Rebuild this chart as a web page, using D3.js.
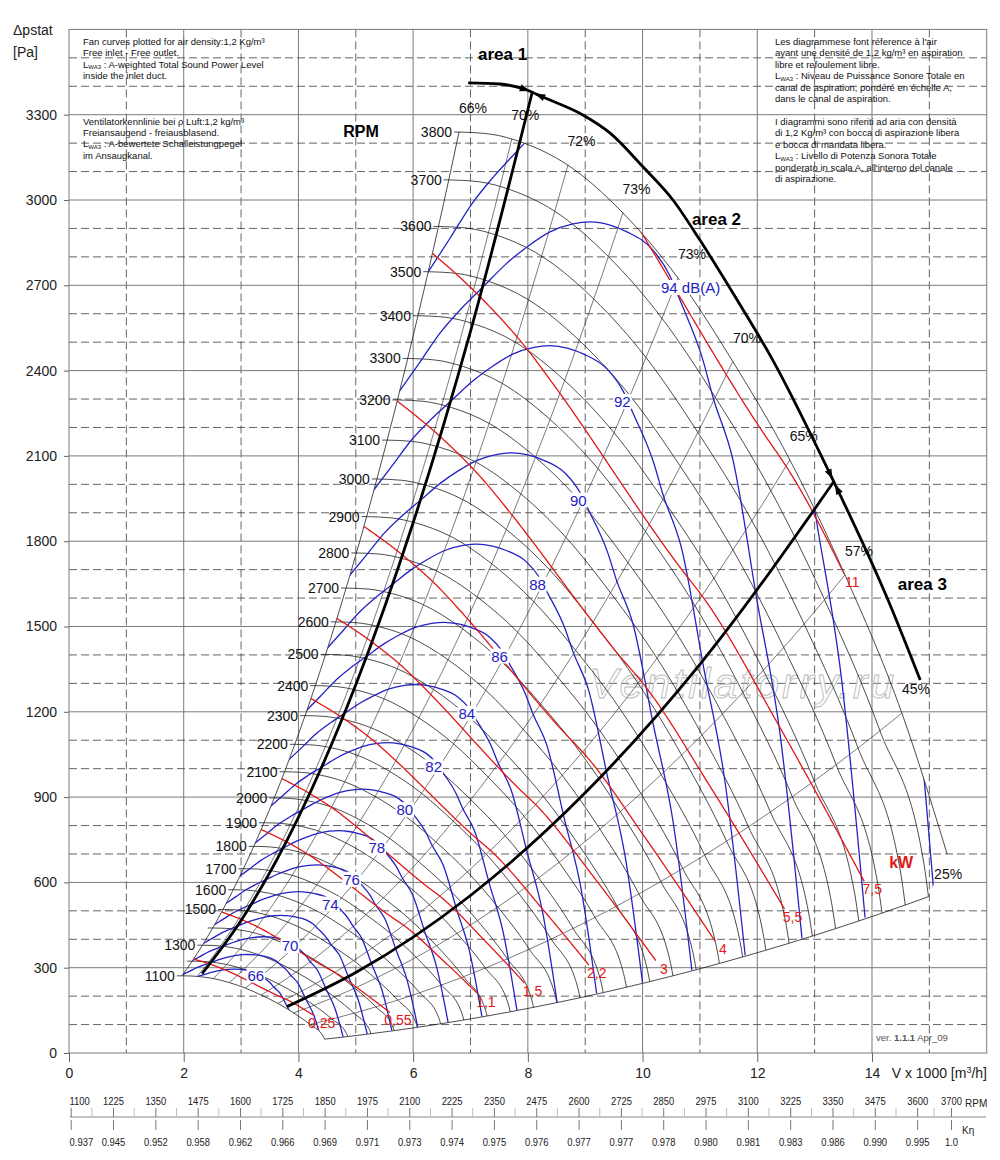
<!DOCTYPE html>
<html>
<head>
<meta charset="utf-8">
<title>Fan curves</title>
<script src="https://cdn.jsdelivr.net/npm/d3@7"></script>
<style>
  body { margin: 0; background: #fff; }
  svg { font-family: "Liberation Sans", Arial, sans-serif; }
  .solid { stroke: #7a7a7a; stroke-width: 1; }
  .dash { stroke: #3c3c3c; stroke-width: 0.8; stroke-dasharray: 8 4; }
  .note { font-size: 9.5px; fill: #111; }
  .axis text { font-size: 14px; fill: #222; }
  .axis line { stroke: #666; }
  .axis path { display: none; }
  .scale text { font-size: 11.5px; fill: #222; }
  .scale line { stroke: #777; }
  .scale path { display: none; }
</style>
</head>
<body>
<svg id="chart" width="1000" height="1160"></svg>
<script>
// speeds of the fan curves
const rpmList = [1100,1200,1300,1400,1500,1600,1700,1800,1900,2000,2100,2200,2300,2400,
                 2500,2600,2700,2800,2900,3000,3100,3200,3300,3400,3500,3600,3700,3800];
const rpmNoLabel = [1200, 1400];
// fan curve at 3800 rpm  [V x 1000 m3/h, Pa]
const curve3800 = [[6.80,3239],[7.34,3232],[7.92,3201],[8.68,3125],[9.66,2954],[10.62,2725],
                   [11.57,2433],[12.57,2085],[13.53,1681],[14.52,1196],[15.31,700],[15.39,580]];
// efficiency lines: flow where they meet the 3800 rpm curve
const effTopV = [6.80,7.72,8.70,9.66,10.62,11.57,12.57,13.53,14.52,15.31];
const effText = ["66%","70%","72%","73%","73%","70%","65%","57%","45%","25%"];
// sound power curves
const dbLevels = [66,68,70,72,74,76,78,80,82,84,86,88,90,92,94,96,98];
const dbFootV  = [4.06,4.40,4.78,5.20,5.63,6.08,6.61,7.20,7.81,8.51,9.20,10.00,10.86,11.79,12.78,13.88,15.08];
const dbShown  = [66,70,74,76,78,80,82,84,86,88,90,92,94];
const curve94dB = [[5.753,2325],[6.119,2430],[6.468,2532],[6.817,2613],[7.218,2694],[7.636,2778],
                   [7.985,2835],[8.386,2888],[8.787,2916],[9.083,2923],[9.432,2912],[9.728,2888],
                   [10.181,2824],[10.478,2733],[10.652,2648],[11.053,2437],[11.227,2307],[11.576,2086],
                   [11.994,1593],[12.395,1125],[12.779,404]];
// shaft power lines
const kwText = ["0,25","0,55","1,1","1,5","2,2","3","4","5,5","7,5","11"];
const kwStartRpm = [1200,1470,1850,2050,2330,2580,2840,3160,3500,3965];
const kwEndV = [4.27,5.60,7.13,7.95,9.07,10.29,11.31,12.48,13.88,13.53];
const curve7kW5 = [[6.33,2814],[7.17,2659],[8.04,2462],[8.39,2367],[10.65,1709],[11.09,1593],
                   [12.40,1143],[13.88,598]];
// area limits
const area1Line = [[2.32,279],[3,466],[4,829],[5,1295],[6,1865],[7,2538],[8.08,3382]];
const area2Line = [[3.80,163],[5,283],[7,554],[9,915],[11,1367],[13.33,2008]];
const envelope = [[6.96,3412],[7.51,3408],[7.98,3387],[8.26,3362],[8.96,3299],[9.43,3236],
                  [10.01,3116],[10.53,3000],[11.00,2859],[11.65,2648],[12.27,2437],[13.21,2061],
                  [14.28,1593],[14.84,1312]];
// axes
const xTicks = [0,2,4,6,8,10,12,14];
const yTicks = [0,300,600,900,1200,1500,1800,2100,2400,2700,3000,3300];
const rpmTicks = [1100,1225,1350,1475,1600,1725,1850,1975,2100,2225,2350,2475,2600,2725,
                  2850,2975,3100,3225,3350,3475,3600,3700];
const kEta = ["0.937","0.945","0.952","0.958","0.962","0.966","0.969","0.971","0.973","0.974",
              "0.975","0.976","0.977","0.977","0.978","0.980","0.981","0.983","0.986","0.990",
              "0.995","1.0"];

const notesLeft = [["Fan curves plotted for air density:1,2 Kg/m³","Free inlet - Free outlet.",
                    "LWA3 : A-weighted Total Sound Power Level","inside the inlet duct."],
                   ["Ventilatorkennlinie bei ρ Luft:1,2 kg/m³","Freiansaugend - freiausblasend.",
                    "LWA3 : A-bewertete Schalleistungpegel","im Ansaugkanal."]];
const notesRight = [["Les diagrammese font réference à l'air","ayant une densité de 1,2 kg/m³ en aspiration",
                     "libre et refoulement libre.","LWA3 : Niveau de Puissance Sonore Totale en",
                     "canal de aspiration, pondéré en échelle A,","dans le canal de aspiration."],
                    ["I diagrammi sono riferiti ad aria con densità","di 1,2 Kg/m³ con bocca di aspirazione libera",
                     "e bocca di mandata libera.","LWA3 : Livello di Potenza Sonora Totale",
                     "ponderato in scala A, all'interno del canale","di aspirazione."]];

const svg = d3.select("#chart");
const x = d3.scaleLinear().domain([0, 16]).range([69, 986.7]);
const y = d3.scaleLinear().domain([0, 3600]).range([1053, 29.4]);
const line = d3.line().x(d => x(d[0])).y(d => y(d[1])).curve(d3.curveMonotoneX);
const scaled = (pts, s) => pts.map(([v, p]) => [v * s, p * s * s]);

function samplePath(node, n) {
  const L = node.getTotalLength();
  return d3.range(n + 1).map(i => {
    const q = node.getPointAtLength(L * i / n);
    return [q.x, q.y];
  });
}

// grid
const grid = svg.append("g");
for (let v = 1; v < 16; v++) {
  grid.append("line").attr("class", v % 2 ? "dash" : "solid")
    .attr("x1", x(v)).attr("x2", x(v)).attr("y1", y(3600)).attr("y2", y(0));
}
for (let p = 100; p < 3600; p += 100) {
  grid.append("line").attr("class", p % 300 ? "dash" : "solid")
    .attr("x1", x(0)).attr("x2", x(16)).attr("y1", y(p)).attr("y2", y(p));
}
grid.append("rect").attr("x", x(0)).attr("y", y(3600))
  .attr("width", x(16) - x(0)).attr("height", y(0) - y(3600))
  .attr("fill", "none").attr("stroke", "#7a7a7a");

// axes
svg.append("g").attr("class", "axis").attr("transform", `translate(${x(0)},0)`)
  .call(d3.axisLeft(y).tickValues(yTicks).tickSize(5).tickPadding(7).tickFormat(d3.format("d")));
svg.append("g").attr("class", "axis").attr("transform", `translate(0,${y(0)})`)
  .call(d3.axisBottom(x).tickValues(xTicks).tickSize(9).tickPadding(6));
svg.append("text").attr("x", 13).attr("y", 35).attr("font-size", 14).attr("fill", "#222").text("Δpstat");
svg.append("text").attr("x", 13).attr("y", 57).attr("font-size", 14).attr("fill", "#222").text("[Pa]");
svg.append("text").attr("x", 987).attr("y", 1078).attr("text-anchor", "end")
  .attr("font-size", 14).attr("fill", "#222")
  .html('V x 1000 [m<tspan font-size="9" dy="-5">3</tspan><tspan dy="5">/h]</tspan>');

// notes
function noteLine(g, str, xx, yy) {
  const t = g.append("text").attr("class", "note").attr("x", xx).attr("y", yy);
  if (str.startsWith("LWA3")) {
    t.append("tspan").text("L");
    t.append("tspan").attr("font-size", "6px").attr("dy", 1.5).text("WA3");
    t.append("tspan").attr("dy", -1.5).text(str.slice(4));
  } else t.text(str);
}
const notes = svg.append("g");
notesLeft.forEach((blk, b) => blk.forEach((s, i) => noteLine(notes, s, 83, 45 + b * 79.5 + i * 11.4)));
notesRight.forEach((blk, b) => blk.forEach((s, i) => noteLine(notes, s, 775, 45 + b * 80 + i * 11.4)));
svg.append("text").attr("x", 876).attr("y", 1041).attr("font-size", 9.5).attr("fill", "#555")
  .html('ver. <tspan font-weight="bold">1.1.1</tspan> Apr_09');

// watermark
svg.append("text").attr("x", x(11.73)).attr("y", y(1249)).attr("text-anchor", "middle")
  .attr("font-size", 43).attr("font-style", "italic").attr("fill", "none")
  .attr("stroke", "#b9b9b9").attr("stroke-width", 0.9).attr("textLength", 305)
  .text("Ventilatorry.ru");

// fan curves
const gRpm = svg.append("g").attr("fill", "none").attr("stroke", "#111").attr("stroke-width", 0.75);
const rpmPaths = {};
const starts = [], ends = [];
rpmList.forEach(n => {
  const s = n / 3800;
  let pts = scaled(curve3800, s);
  if (n === 3800) pts = pts.slice(0, -1);
  else ends.push(pts[pts.length - 1]);
  starts.push(pts[0]);
  rpmPaths[n] = gRpm.append("path").attr("d", line(pts)).node();
  gRpm.append("line").attr("x1", x(pts[0][0]) - 5).attr("x2", x(pts[0][0]))
    .attr("y1", y(pts[0][1])).attr("y2", y(pts[0][1]));
  if (!rpmNoLabel.includes(n)) {
    svg.append("text").attr("x", x(pts[0][0]) - 7).attr("y", y(pts[0][1]) + 5)
      .attr("text-anchor", "end").attr("font-size", 14).attr("fill", "#111").text(n);
  }
});
const leftPath = gRpm.append("path").attr("d", line(starts)).node();
const bottomPath = gRpm.append("path").attr("d", line(ends)).node();

// region of the fan curves, used to clip sound and power lines
const topPts = samplePath(rpmPaths[3800], 500);
const region = [].concat(
  samplePath(leftPath, 200),
  topPts,
  samplePath(bottomPath, 300).reverse(),
  samplePath(rpmPaths[1100], 100).reverse());
svg.append("defs").append("clipPath").attr("id", "region")
  .append("polygon").attr("points", region.map(d => d.join(",")).join(" "));

function pxOnTop(px) {
  let best = topPts[0];
  for (const q of topPts) if (Math.abs(q[0] - px) < Math.abs(best[0] - px)) best = q;
  return best;
}

// efficiency lines
const gEff = svg.append("g").attr("fill", "none").attr("stroke", "#222").attr("stroke-width", 0.6);
effTopV.forEach((v, i) => {
  const top = pxOnTop(x(v));
  const pTop = y.invert(top[1]);
  if (i > 0 && i < effTopV.length - 1) {
    gEff.append("path").attr("d", line(rpmList.map(n => [v * n / 3800, pTop * (n / 3800) ** 2])));
  }
  const last = i === effTopV.length - 1;
  svg.append("text").attr("x", top[0] + (last ? 1 : 14)).attr("y", top[1] + (last ? 25 : -19))
    .attr("text-anchor", "middle").attr("font-size", 14).attr("fill", "#111").text(effText[i]);
});

// sound power curves
const blue = "#2323c4";
const gBlue = svg.append("g").attr("clip-path", "url(#region)").attr("fill", "none")
  .attr("stroke", blue).attr("stroke-width", 1.3);
const ref94 = dbFootV[dbLevels.indexOf(94)];
const dbLabelAnchor = [(curve94dB[13][0] + curve94dB[14][0]) / 2, (curve94dB[13][1] + curve94dB[14][1]) / 2];
const labelJobs = [];
dbLevels.forEach((L, i) => {
  const s = dbFootV[i] / ref94;
  gBlue.append("path").attr("d", line(scaled(curve94dB, s)));
  if (dbShown.includes(L)) {
    const a = scaled([dbLabelAnchor], s)[0];
    labelJobs.push({ x: x(a[0]) - 14, y: y(a[1]), text: L === 94 ? "94 dB(A)" : String(L) });
  }
});

// power lines
const red = "#e01818";
const gRed = svg.append("g").attr("clip-path", "url(#region)").attr("fill", "none")
  .attr("stroke", red).attr("stroke-width", 1.3);
const plain = d3.line();
kwText.forEach((k, i) => {
  const s = kwStartRpm[i] / 3500;
  const path = gRed.append("path").attr("d", line(scaled(curve7kW5, s)));
  const pts = samplePath(path.node(), 400).filter(q => q[0] <= x(kwEndV[i]));
  path.attr("d", plain(pts));
  const inside = pts.filter(q => d3.polygonContains(region, q));
  const end = inside[inside.length - 1];
  svg.append("text").attr("x", end[0] + 8).attr("y", end[1] + 13).attr("text-anchor", "middle")
    .attr("font-size", 14).attr("fill", red).text(k);
});

// area limits
const gThick = svg.append("g").attr("fill", "none").attr("stroke", "#000").attr("stroke-width", 2.8);
const envNode = gThick.append("path").attr("d", line(envelope)).node();
[area1Line, area2Line].forEach(a => {
  gThick.append("path").attr("d", line(a));
  const tip = [x(a[a.length - 1][0]), y(a[a.length - 1][1])];
  const L = envNode.getTotalLength();
  let bestL = 0, bestD = Infinity;
  for (let i = 0; i <= 600; i++) {
    const q = envNode.getPointAtLength(L * i / 600);
    const d = Math.hypot(q.x - tip[0], q.y - tip[1]);
    if (d < bestD) { bestD = d; bestL = L * i / 600; }
  }
  [-1, 1].forEach(side => {
    const l0 = bestL + side * 9;
    const q = envNode.getPointAtLength(l0);
    const q2 = envNode.getPointAtLength(l0 + 1);
    let ang = Math.atan2(q2.y - q.y, q2.x - q.x) * 180 / Math.PI;
    if (side > 0) ang += 180;
    svg.append("path").attr("d", "M6,0L-4,-3.6L-4,3.6Z").attr("fill", "#000")
      .attr("transform", `translate(${q.x},${q.y}) rotate(${ang})`);
  });
});

// sound labels with white boxes
labelJobs.forEach(j => {
  const g = svg.append("g");
  const r = g.append("rect").attr("fill", "#fff");
  const t = g.append("text").attr("x", j.x).attr("y", j.y + 5)
    .attr("font-size", 15).attr("fill", blue).text(j.text);
  const b = t.node().getBBox();
  r.attr("x", b.x - 1).attr("y", b.y + 1).attr("width", b.width + 2).attr("height", b.height - 2);
});

// annotations
const bold = (v, p, txt, size, color) => svg.append("text").attr("x", x(v)).attr("y", y(p))
  .attr("font-size", size).attr("font-weight", "bold").attr("fill", color).text(txt);
bold(7.13, 3492, "area 1", 17, "#000");
bold(10.86, 2912, "area 2", 17, "#000");
bold(14.45, 1628, "area 3", 17, "#000");
bold(4.78, 3222, "RPM", 16, "#000");
bold(14.30, 651, "kW", 16, red);

// RPM and K-eta scales
const rpmScale = d3.scaleLinear().domain([1100, 3700]).range([70.7, 951]);
const gScale = svg.append("g");
gScale.append("line").attr("x1", 70).attr("x2", 986).attr("y1", 1117).attr("y2", 1117)
  .attr("stroke", "#888").attr("stroke-width", 1.2);
const minor = rpmTicks.slice(1).map((t, i) => (t + rpmTicks[i]) / 2);
minor.forEach(m => gScale.append("line").attr("x1", rpmScale(m)).attr("x2", rpmScale(m))
  .attr("y1", 1108).attr("y2", 1117).attr("stroke", "#bbb"));
const rpmAxis = gScale.append("g").attr("class", "scale").attr("transform", "translate(0,1117)")
  .call(d3.axisTop(rpmScale).tickValues(rpmTicks).tickSize(9).tickPadding(3).tickFormat(d3.format("d")));
const kAxis = gScale.append("g").attr("class", "scale").attr("transform", "translate(0,1120)")
  .call(d3.axisBottom(rpmScale).tickValues(rpmTicks).tickSize(10).tickPadding(8).tickFormat((d, i) => kEta[i]));
[rpmAxis, kAxis].forEach(ax => {
  ax.selectAll("text").attr("transform", "scale(0.82,1)");
  ax.select(".tick text").attr("text-anchor", "start").attr("x", -2);
});
gScale.append("text").attr("x", 965).attr("y", 1107).attr("font-size", 10).attr("fill", "#222").text("RPM");
gScale.append("text").attr("x", 962).attr("y", 1134).attr("font-size", 10).attr("fill", "#222").text("Kη");
</script>
</body>
</html>
